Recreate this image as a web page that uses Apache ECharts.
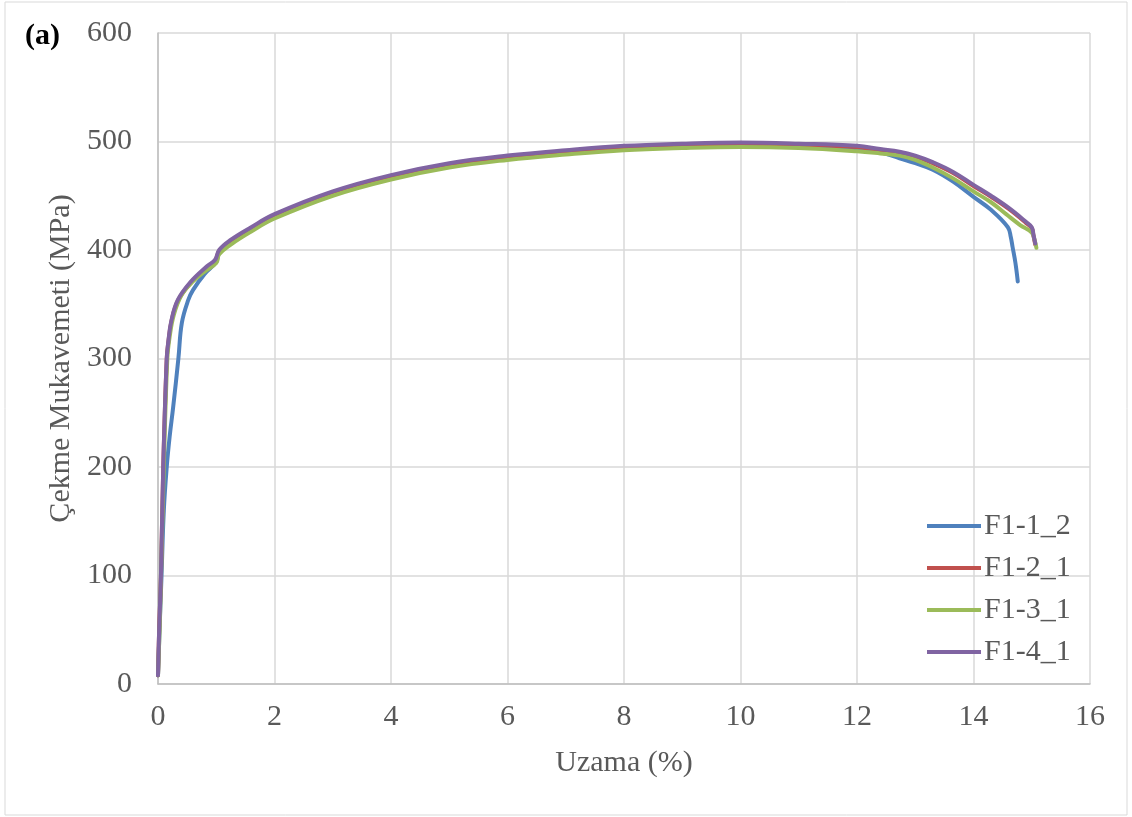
<!DOCTYPE html>
<html>
<head>
<meta charset="utf-8">
<script src="https://cdn.jsdelivr.net/npm/echarts@6/dist/echarts.min.js"></script>
<style>
  html, body { margin: 0; padding: 0; background: #fff; }
  #main { width: 1132px; height: 817px; }
</style>
</head>
<body>
<div id="main"></div>
<script>
// Uzama (%) / Çekme Mukavemeti (MPa)
const f11_x = [0, 0.03, 0.06, 0.1, 0.15, 0.2, 0.26, 0.35, 0.41, 0.52, 0.6, 0.8, 1.0, 1.05, 1.25, 1.6, 2, 3, 4, 5, 6, 7, 8, 9, 10, 11, 12, 12.4, 12.73, 13, 13.3, 13.65, 14, 14.3, 14.59, 14.64, 14.67, 14.72, 14.76]
const f11_y = [8, 55, 99, 160, 200, 228, 255, 300, 333, 354, 363, 378, 389, 397, 406, 418, 430, 451, 467, 478, 485, 490, 494, 496, 497, 496, 493, 490, 484.5, 480, 474, 463, 449, 437, 421, 412, 403, 388, 371]

const f21_x = [0, 0.02, 0.05, 0.09, 0.15, 0.18, 0.23, 0.34, 0.55, 0.84, 0.98, 1.05, 1.24, 1.6, 2, 3, 4, 5, 6, 7, 8, 9, 10, 11, 12, 12.4, 12.73, 13, 13.3, 13.65, 14, 14.3, 14.6, 14.9, 15.0, 15.03, 15.06]
const f21_y = [8, 50, 98, 200, 300, 316, 334, 353, 369, 384, 390, 399, 408, 420, 432, 453, 468, 479, 486, 491, 495, 497, 498, 497, 495, 492, 489.5, 486, 480, 471, 459, 449, 438, 425, 420, 413, 405]

const f31_x = [0, 0.03, 0.05, 0.1, 0.16, 0.2, 0.27, 0.4, 0.6, 0.8, 1.0, 1.05, 1.25, 1.6, 2, 3, 4, 5, 6, 7, 8, 9, 10, 11, 12, 12.4, 12.73, 13, 13.3, 13.65, 14, 14.3, 14.56, 14.8, 15.0, 15.05, 15.08]
const f31_y = [8, 55, 95, 200, 300, 320, 340, 358, 371, 380, 388, 396, 405, 417, 429, 450, 465, 476, 483, 488, 492, 494, 495, 494, 491, 489, 487, 483, 476, 466, 454, 444, 433, 423, 416, 409, 402]

const f41_x = [0, 0.02, 0.05, 0.09, 0.15, 0.18, 0.23, 0.34, 0.55, 0.84, 0.98, 1.05, 1.24, 1.6, 2, 3, 4, 5, 6, 7, 8, 9, 10, 11, 12, 12.4, 12.73, 13, 13.3, 13.65, 14, 14.3, 14.6, 14.9, 15.0, 15.03, 15.06]
const f41_y = [8, 50, 99, 200, 300, 317, 335, 354, 370, 385, 391, 400, 409, 421, 433, 454, 469, 480, 487, 492, 496, 498, 499, 498, 496, 493, 490.6, 487, 481, 472, 460, 450, 439, 426, 421, 414, 406]

const seriesNames = ['F1-1_2', 'F1-2_1', 'F1-3_1', 'F1-4_1']
const seriesColors = ['#4f81bd', '#c0504d', '#9bbb59', '#8064a2']
const xTicks = [0, 2, 4, 6, 8, 10, 12, 14, 16]
const yTicks = [0, 100, 200, 300, 400, 500, 600]

const xs = [f11_x, f21_x, f31_x, f41_x]
const ys = [f11_y, f21_y, f31_y, f41_y]

const font = 'Liberation Serif'
const textColor = '#595959'

const option = {
  animation: false,
  backgroundColor: '#fff',
  title: {
    text: '(a)',
    left: 20,
    top: 16,
    textStyle: { fontFamily: font, fontWeight: 'bold', fontSize: 30, color: '#000' }
  },
  graphic: [{
    type: 'rect',
    shape: { x: 5, y: 2, width: 1122, height: 813 },
    style: { fill: 'none', stroke: '#d9d9d9', lineWidth: 1 },
    silent: true
  }],
  grid: { left: 158, right: 42, top: 33, bottom: 133 },
  legend: {
    orient: 'vertical',
    left: 922,
    top: 506,
    icon: 'rect',
    itemWidth: 54,
    itemHeight: 4,
    itemGap: 12,
    textStyle: { fontFamily: font, fontSize: 30, lineHeight: 30, color: textColor, padding: [0, 0, 0, -2] },
    data: seriesNames
  },
  xAxis: {
    type: 'value',
    min: xTicks[0],
    max: xTicks[xTicks.length - 1],
    interval: 2,
    name: 'Uzama (%)',
    nameLocation: 'middle',
    nameGap: 64,
    nameTextStyle: { fontFamily: font, fontSize: 30, color: textColor },
    axisLine: { show: true, lineStyle: { color: '#bfbfbf', width: 1.5 } },
    axisTick: { show: false },
    axisLabel: { fontFamily: font, fontSize: 30, color: textColor, margin: 18 },
    splitLine: { show: true, lineStyle: { color: '#d9d9d9', width: 1.5 } }
  },
  yAxis: {
    type: 'value',
    min: yTicks[0],
    max: yTicks[yTicks.length - 1],
    interval: 100,
    name: 'Çekme Mukavemeti (MPa)',
    nameLocation: 'middle',
    nameGap: 74,
    nameTextStyle: { fontFamily: font, fontSize: 30, color: textColor },
    axisLine: { show: true, lineStyle: { color: '#bfbfbf', width: 1.5 } },
    axisTick: { show: false },
    axisLabel: { fontFamily: font, fontSize: 30, color: textColor, margin: 26 },
    splitLine: { show: true, lineStyle: { color: '#d9d9d9', width: 1.5 } }
  },
  series: seriesNames.map((name, i) => ({
    name: name,
    type: 'line',
    symbol: 'none',
    smooth: 0.4,
    lineStyle: { width: 4, color: seriesColors[i], cap: 'round', join: 'round' },
    itemStyle: { color: seriesColors[i] },
    data: xs[i].map((x, j) => [x, ys[i][j]])
  }))
}

const chart = echarts.init(document.getElementById('main'))
chart.setOption(option)
</script>
</body>
</html>
